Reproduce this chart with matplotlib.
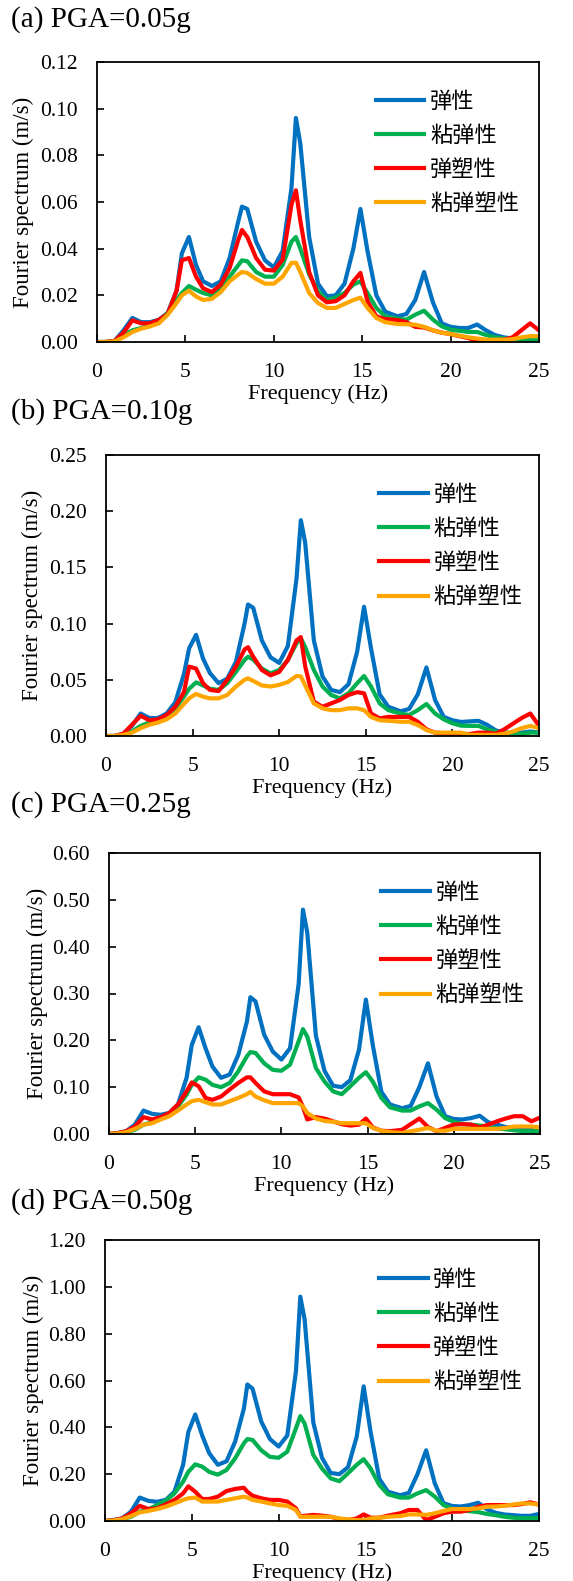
import matplotlib
matplotlib.use("Agg")
import matplotlib.pyplot as plt

plt.rcParams['font.family'] = ['Liberation Serif', 'DejaVu Serif']

freq = [0, 0.5, 1, 1.5, 2, 2.5, 3, 3.5, 4, 4.5, 4.8, 5.2, 5.6, 6, 6.5, 7, 7.5, 8, 8.2, 8.5,
        9, 9.5, 10, 10.5, 11, 11.25, 11.5, 12, 12.5, 13, 13.5, 14, 14.5, 14.9, 15.3, 15.8,
        16.3, 17, 17.5, 18, 18.5, 19, 19.5, 20, 20.5, 21, 21.5, 22, 22.5, 23, 23.5, 24, 24.5, 25]

labels = ['弹性', '粘弹性', '弹塑性', '粘弹塑性']
colors = ['#0070C0', '#00B050', '#FF0000', '#FFA500']
titles = ['(a) PGA=0.05g', '(b) PGA=0.10g', '(c) PGA=0.25g', '(d) PGA=0.50g']

# (a) PGA=0.05g
a_elastic = [0, 0, 0.0005, 0.005, 0.0103, 0.0085, 0.0085, 0.0095, 0.0125, 0.022, 0.038, 0.045, 0.033, 0.026, 0.024, 0.026, 0.036, 0.052, 0.058, 0.057,
             0.043, 0.035, 0.032, 0.039, 0.066, 0.096, 0.085, 0.045, 0.025, 0.0196, 0.020, 0.025, 0.040, 0.057, 0.039, 0.020,
             0.013, 0.011, 0.012, 0.018, 0.030, 0.017, 0.008, 0.0065, 0.006, 0.006, 0.0075, 0.005, 0.003, 0.002, 0.0015, 0.001, 0.0015, 0.0015]
a_visco = [0, 0, 0.0005, 0.003, 0.005, 0.006, 0.007, 0.009, 0.0124, 0.018, 0.021, 0.024, 0.0224, 0.021, 0.020, 0.023, 0.028, 0.033, 0.035, 0.0346,
           0.030, 0.028, 0.028, 0.033, 0.043, 0.045, 0.040, 0.029, 0.0217, 0.018, 0.019, 0.021, 0.0246, 0.026, 0.021, 0.0146,
           0.011, 0.010, 0.0096, 0.0117, 0.0134, 0.0096, 0.0067, 0.0053, 0.0048, 0.0043, 0.0043, 0.003, 0.002, 0.0015, 0.001, 0.001, 0.001, 0.001]
a_plastic = [0, 0, 0.0005, 0.004, 0.0093, 0.008, 0.008, 0.0095, 0.012, 0.022, 0.035, 0.036, 0.028, 0.023, 0.0214, 0.0246, 0.0317, 0.044, 0.048, 0.045,
             0.036, 0.031, 0.0306, 0.0353, 0.0589, 0.065, 0.052, 0.030, 0.020, 0.017, 0.0175, 0.020, 0.026, 0.0296, 0.0174, 0.011,
             0.0098, 0.0094, 0.0085, 0.0065, 0.0062, 0.005, 0.004, 0.0034, 0.0025, 0.0017, 0.0003, 0.0005, 0.0008, 0.001, 0.002, 0.005, 0.008, 0.005]
a_visco_plastic = [0, 0, 0.0003, 0.002, 0.0043, 0.0057, 0.0067, 0.008, 0.0117, 0.0167, 0.020, 0.022, 0.0195, 0.018, 0.0185, 0.0214, 0.026, 0.029, 0.030, 0.0296,
                   0.027, 0.025, 0.025, 0.028, 0.0339, 0.034, 0.030, 0.021, 0.0167, 0.0146, 0.0146, 0.0163, 0.018, 0.019, 0.0146, 0.0103,
                   0.0085, 0.0077, 0.0076, 0.0074, 0.0065, 0.005, 0.004, 0.0034, 0.0027, 0.002, 0.0015, 0.001, 0.001, 0.001, 0.0012, 0.002, 0.0025, 0.0025]

# (b) PGA=0.10g
b_elastic = [0, 0, 0.002, 0.009, 0.020, 0.016, 0.016, 0.020, 0.030, 0.055, 0.078, 0.090, 0.069, 0.056, 0.047, 0.051, 0.066, 0.100, 0.117, 0.114,
             0.085, 0.070, 0.065, 0.080, 0.140, 0.192, 0.172, 0.085, 0.053, 0.041, 0.039, 0.046, 0.075, 0.115, 0.078, 0.037,
             0.026, 0.022, 0.024, 0.037, 0.061, 0.032, 0.017, 0.014, 0.0125, 0.013, 0.0135, 0.010, 0.005, 0.003, 0.003, 0.003, 0.004, 0.003]
b_visco = [0, 0, 0.001, 0.004, 0.009, 0.012, 0.014, 0.018, 0.0246, 0.035, 0.042, 0.0477, 0.045, 0.042, 0.041, 0.047, 0.057, 0.0676, 0.0705, 0.068,
           0.060, 0.0557, 0.0587, 0.0676, 0.0824, 0.087, 0.079, 0.0587, 0.044, 0.0365, 0.0335, 0.038, 0.047, 0.0534, 0.044, 0.029,
           0.023, 0.020, 0.0187, 0.023, 0.0285, 0.020, 0.0148, 0.0113, 0.0092, 0.009, 0.009, 0.006, 0.004, 0.003, 0.002, 0.002, 0.003, 0.003]
b_plastic = [0, 0, 0.002, 0.010, 0.018, 0.014, 0.0148, 0.0187, 0.026, 0.039, 0.0617, 0.060, 0.047, 0.041, 0.040, 0.050, 0.0617, 0.077, 0.079, 0.0705,
             0.0587, 0.054, 0.057, 0.0676, 0.085, 0.088, 0.062, 0.0305, 0.026, 0.029, 0.032, 0.0365, 0.039, 0.038, 0.020, 0.0157,
             0.017, 0.017, 0.017, 0.0127, 0.006, 0.003, 0.0024, 0.0024, 0.0018, 0.0018, 0.003, 0.003, 0.002, 0.006, 0.011, 0.016, 0.020, 0.009]
b_visco_plastic = [0, 0, 0.001, 0.003, 0.007, 0.010, 0.012, 0.0148, 0.020, 0.0285, 0.0335, 0.0374, 0.035, 0.0335, 0.0335, 0.0365, 0.044, 0.050, 0.0513, 0.049,
                   0.045, 0.044, 0.0455, 0.048, 0.0534, 0.053, 0.045, 0.029, 0.0246, 0.023, 0.023, 0.0246, 0.0246, 0.023, 0.017, 0.014,
                   0.0136, 0.0127, 0.0127, 0.0098, 0.0053, 0.003, 0.003, 0.003, 0.003, 0.001, 0.001, 0.001, 0.001, 0.002, 0.004, 0.007, 0.009, 0.007]

# (c) PGA=0.25g
c_elastic = [0, 0.002, 0.006, 0.020, 0.050, 0.043, 0.041, 0.045, 0.063, 0.120, 0.190, 0.228, 0.183, 0.144, 0.120, 0.127, 0.169, 0.240, 0.292, 0.283,
             0.212, 0.176, 0.159, 0.183, 0.320, 0.479, 0.430, 0.210, 0.135, 0.103, 0.100, 0.115, 0.180, 0.287, 0.190, 0.090,
             0.063, 0.055, 0.060, 0.100, 0.151, 0.080, 0.038, 0.032, 0.031, 0.034, 0.039, 0.025, 0.020, 0.015, 0.012, 0.010, 0.010, 0.010]
c_visco = [0, 0.001, 0.004, 0.009, 0.020, 0.025, 0.034, 0.043, 0.059, 0.084, 0.105, 0.121, 0.116, 0.105, 0.100, 0.109, 0.134, 0.166, 0.175, 0.173,
           0.151, 0.137, 0.135, 0.148, 0.198, 0.224, 0.208, 0.141, 0.112, 0.091, 0.085, 0.102, 0.120, 0.132, 0.112, 0.077,
           0.057, 0.050, 0.050, 0.059, 0.066, 0.052, 0.034, 0.026, 0.021, 0.020, 0.018, 0.016, 0.012, 0.010, 0.008, 0.006, 0.006, 0.006]
c_plastic = [0, 0.002, 0.006, 0.016, 0.036, 0.031, 0.036, 0.045, 0.063, 0.091, 0.110, 0.102, 0.077, 0.073, 0.080, 0.095, 0.109, 0.121, 0.121, 0.109,
             0.091, 0.085, 0.085, 0.085, 0.078, 0.058, 0.031, 0.036, 0.033, 0.027, 0.021, 0.018, 0.020, 0.033, 0.014, 0.007,
             0.006, 0.009, 0.021, 0.033, 0.015, 0.006, 0.013, 0.020, 0.021, 0.020, 0.014, 0.020, 0.027, 0.033, 0.038, 0.038, 0.027, 0.035]
c_visco_plastic = [0, 0.001, 0.004, 0.011, 0.020, 0.023, 0.031, 0.038, 0.050, 0.063, 0.070, 0.073, 0.068, 0.063, 0.063, 0.070, 0.077, 0.085, 0.090, 0.080,
                   0.072, 0.066, 0.066, 0.066, 0.066, 0.059, 0.045, 0.033, 0.028, 0.026, 0.023, 0.023, 0.023, 0.023, 0.013, 0.007,
                   0.004, 0.002, 0.006, 0.009, 0.013, 0.007, 0.007, 0.011, 0.011, 0.011, 0.011, 0.011, 0.011, 0.013, 0.016, 0.016, 0.016, 0.014]

# (d) PGA=0.50g
d_elastic = [0, 0.004, 0.012, 0.040, 0.100, 0.086, 0.082, 0.090, 0.125, 0.240, 0.380, 0.455, 0.365, 0.290, 0.240, 0.255, 0.340, 0.480, 0.583, 0.565,
             0.425, 0.350, 0.318, 0.365, 0.640, 0.958, 0.860, 0.420, 0.270, 0.205, 0.200, 0.230, 0.360, 0.575, 0.380, 0.180,
             0.125, 0.110, 0.120, 0.200, 0.302, 0.160, 0.076, 0.064, 0.062, 0.068, 0.078, 0.050, 0.035, 0.028, 0.025, 0.022, 0.022, 0.030]
d_visco = [0, 0.002, 0.008, 0.018, 0.040, 0.050, 0.068, 0.086, 0.118, 0.168, 0.210, 0.242, 0.232, 0.210, 0.198, 0.218, 0.268, 0.332, 0.350, 0.346,
           0.302, 0.274, 0.270, 0.296, 0.396, 0.448, 0.416, 0.282, 0.224, 0.182, 0.170, 0.204, 0.240, 0.264, 0.224, 0.154,
           0.114, 0.100, 0.100, 0.118, 0.132, 0.104, 0.068, 0.052, 0.045, 0.042, 0.038, 0.030, 0.025, 0.018, 0.014, 0.012, 0.012, 0.012]
d_plastic = [0, 0.003, 0.011, 0.033, 0.065, 0.051, 0.054, 0.071, 0.090, 0.118, 0.148, 0.125, 0.094, 0.094, 0.104, 0.128, 0.137, 0.142, 0.125, 0.108,
             0.097, 0.090, 0.090, 0.083, 0.054, 0.020, 0.022, 0.026, 0.023, 0.018, 0.009, 0.004, 0.011, 0.028, 0.014, 0.014,
             0.023, 0.033, 0.047, 0.047, 0.004, 0.018, 0.033, 0.040, 0.040, 0.047, 0.061, 0.068, 0.068, 0.068, 0.068, 0.072, 0.080, 0.070]
d_visco_plastic = [0, 0.002, 0.008, 0.021, 0.037, 0.043, 0.051, 0.061, 0.075, 0.090, 0.097, 0.100, 0.083, 0.083, 0.083, 0.090, 0.097, 0.104, 0.100, 0.090,
                   0.083, 0.075, 0.068, 0.065, 0.047, 0.018, 0.018, 0.018, 0.018, 0.018, 0.011, 0.007, 0.004, 0.004, 0.011, 0.014,
                   0.018, 0.021, 0.028, 0.028, 0.026, 0.033, 0.043, 0.051, 0.051, 0.051, 0.054, 0.061, 0.062, 0.065, 0.070, 0.075, 0.075, 0.070]

panels = [
    [a_elastic, a_visco, a_plastic, a_visco_plastic],
    [b_elastic, b_visco, b_plastic, b_visco_plastic],
    [c_elastic, c_visco, c_plastic, c_visco_plastic],
    [d_elastic, d_visco, d_plastic, d_visco_plastic],
]
ymax = [0.12, 0.25, 0.60, 1.20]
ystep = [0.02, 0.05, 0.10, 0.20]

W, H = 573, 1581
# axes boxes in pixels: left, right, top, bottom
boxes = [(97, 539, 62, 342), (106, 539, 455, 736), (109, 540, 853, 1134), (105, 539, 1240, 1521)]
title_y = [20, 412, 805, 1202]
ylab_x = [23, 32, 37, 33]

fig = plt.figure(figsize=(W / 100, H / 100), dpi=100)

for i in range(4):
    l, r, t, b = boxes[i]
    ax = fig.add_axes([l / W, (H - b) / H, (r - l) / W, (b - t) / H])
    for vals, c, lab in zip(panels[i], colors, labels):
        ax.plot(freq, vals, color=c, lw=3, label=lab, solid_joinstyle='round')
    ax.set_xlim(0, 25)
    ax.set_ylim(0, ymax[i])
    ax.set_xticks([0, 5, 10, 15, 20, 25])
    n = int(round(ymax[i] / ystep[i]))
    ax.set_yticks([k * ystep[i] for k in range(n + 1)])
    ax.yaxis.set_major_formatter(matplotlib.ticker.FormatStrFormatter('%.2f'))
    ax.tick_params(direction='in', length=5, width=1.2, labelsize=15.5)
    ax.tick_params(axis='x', pad=15)
    ax.tick_params(axis='y', pad=14)
    for s in ax.spines.values():
        s.set_linewidth(1.3)
    ax.set_xlabel('Frequency (Hz)', fontsize=16, va='center')
    ax.xaxis.set_label_coords(0.5, -52 / (b - t))
    ax.set_ylabel('Fourier spectrum (m/s)', fontsize=16.5, va='center')
    ax.yaxis.set_label_coords((ylab_x[i] - l) / (r - l), 0.5)
    leg = ax.legend(loc='upper left', bbox_to_anchor=(0.605, 0.94), frameon=False,
                    prop={'family': ['Noto Sans CJK SC', 'DejaVu Sans'], 'size': 16},
                    handlelength=2.2, handletextpad=0.25, labelspacing=0.5, borderpad=0)
    fig.text(11 / W, 1 - title_y[i] / H, titles[i], fontsize=21, va='center', ha='left')

fig.savefig('out.png', dpi=100)
